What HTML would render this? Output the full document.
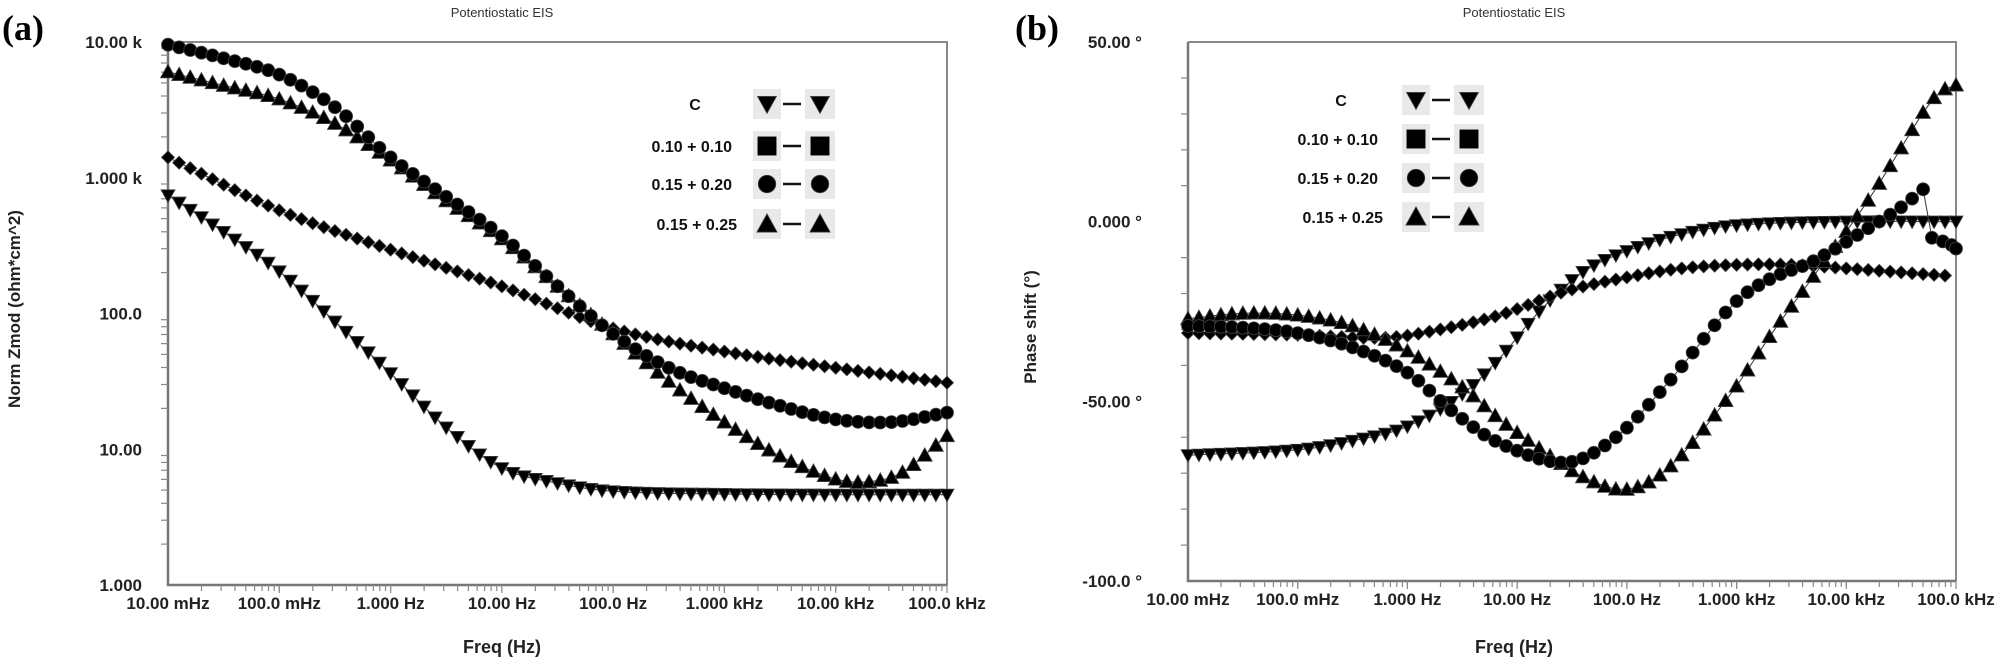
<!DOCTYPE html>
<html><head><meta charset="utf-8">
<style>
html,body{margin:0;padding:0;background:#fff;}
svg{display:block;}
text{font-family:"Liberation Sans",Arial,sans-serif;}
</style></head>
<body>
<svg id="s" width="2007" height="664" viewBox="0 0 2007 664" xmlns="http://www.w3.org/2000/svg">
<rect width="2007" height="664" fill="#fff"/>
<text x="2" y="40" font-weight="bold" font-size="36" fill="#000" style="font-family:'Liberation Serif',serif">(a)</text>
<text x="1015" y="40" font-weight="bold" font-size="36" fill="#000" style="font-family:'Liberation Serif',serif">(b)</text>
<text x="502" y="17" font-size="13" text-anchor="middle" fill="#333">Potentiostatic EIS</text>
<text x="1514" y="17" font-size="13" text-anchor="middle" fill="#333">Potentiostatic EIS</text>
<text x="502" y="653" font-size="18" font-weight="bold" text-anchor="middle" fill="#222">Freq (Hz)</text>
<text x="1514" y="653" font-size="18" font-weight="bold" text-anchor="middle" fill="#222">Freq (Hz)</text>
<text transform="translate(20,309) rotate(-90)" font-size="17" font-weight="bold" text-anchor="middle" fill="#222">Norm Zmod (ohm*cm^2)</text>
<text transform="translate(1036,327) rotate(-90)" font-size="17" font-weight="bold" text-anchor="middle" fill="#222">Phase shift (°)</text>
<g id="g"></g>
</svg>
<script>
(function(){
var g=document.getElementById('g'),out='';
function spline(pts,x){
  var n=pts.length;
  if(x<=pts[0][0])return pts[0][1];
  if(x>=pts[n-1][0])return pts[n-1][1];
  var i=0;while(i<n-2&&x>pts[i+1][0])i++;
  var p0=pts[Math.max(i-1,0)],p1=pts[i],p2=pts[i+1],p3=pts[Math.min(i+2,n-1)];
  var t=(x-p1[0])/(p2[0]-p1[0]);
  var h=p2[0]-p1[0];
  var m1=(p2[1]-p0[1])/(p2[0]-p0[0]||1)*h, m2=(p3[1]-p1[1])/(p3[0]-p1[0]||1)*h;
  var t2=t*t,t3=t2*t;
  return (2*t3-3*t2+1)*p1[1]+(t3-2*t2+t)*m1+(-2*t3+3*t2)*p2[1]+(t3-t2)*m2;
}
function marker(type,x,y,s){
  s=s||1;
  if(type=='c')return '<circle cx="'+x.toFixed(1)+'" cy="'+y.toFixed(1)+'" r="'+(6.5*s)+'" fill="#000" stroke="#444" stroke-width="0.8"/>';
  if(type=='t'){var a=7.5*s;return '<polygon points="'+x+','+(y-a)+' '+(x-a)+','+(y+a*0.8)+' '+(x+a)+','+(y+a*0.8)+'" fill="#000" stroke="#444" stroke-width="0.8"/>';}
  if(type=='v'){var a=7*s;return '<polygon points="'+x+','+(y+a)+' '+(x-a)+','+(y-a*0.8)+' '+(x+a)+','+(y-a*0.8)+'" fill="#000" stroke="#444" stroke-width="0.8"/>';}
  if(type=='d'){var a=6.5*s;return '<polygon points="'+x+','+(y-a)+' '+(x+a)+','+y+' '+x+','+(y+a)+' '+(x-a)+','+y+'" fill="#000" stroke="#444" stroke-width="0.8"/>';}
  if(type=='s'){var a=7*s;return '<rect x="'+(x-a)+'" y="'+(y-a)+'" width="'+(2*a)+'" height="'+(2*a)+'" fill="#000"/>';}
}
function series(type,pts,X,Y,extra){
  var P=[];
  for(var k=0;k<=70;k++){var d=k/10;P.push([X(d),Y(spline(pts,d))]);}
  if(extra){P=P.filter(function(p,i){return i/10<=extra.cut;});extra.pts.forEach(function(e){P.push([X(e[0]),Y(e[1])]);});}
  var s='<polyline fill="none" stroke="#333" stroke-width="1" points="'+P.map(function(p){return p[0].toFixed(1)+','+p[1].toFixed(1)}).join(' ')+'"/>';
  P.forEach(function(p){s+=marker(type,p[0],p[1]);});
  return s;
}
function axes(L,R,T,B){
  var s='<polyline fill="none" stroke="#888" stroke-width="2" points="'+L+','+T+' '+R+','+T+' '+R+','+B+'"/>';
  s+='<polyline fill="none" stroke="#777" stroke-width="2.5" points="'+L+','+T+' '+L+','+B+' '+R+','+B+'"/>';
  return s;
}
function xticks(L,dec,B){
  var s='';
  for(var d=0;d<7;d++)for(var m=1;m<=10;m++){
    if(d==0&&m==1)continue;
    var x=L+(d+Math.log10(m))*dec;
    var len=(m==10)?8:6;
    s+='<line x1="'+x.toFixed(1)+'" y1="'+B+'" x2="'+x.toFixed(1)+'" y2="'+(B+len)+'" stroke="#888" stroke-width="1.2"/>';
  }
  var labs=['10.00 mHz','100.0 mHz','1.000 Hz','10.00 Hz','100.0 Hz','1.000 kHz','10.00 kHz','100.0 kHz'];
  labs.forEach(function(t,i){s+='<text x="'+(L+i*dec).toFixed(1)+'" y="'+(B+24)+'" font-size="17" font-weight="bold" text-anchor="middle" fill="#222">'+t+'</text>';});
  return s;
}
var L1=168,R1=947,T1=42,B1=585,dec1=(R1-L1)/7,ydec=(B1-T1)/4;
var X1=function(d){return L1+d*dec1;}, Y1=function(v){return T1+(4-v)*ydec;};
out+=axes(L1,R1,T1,B1)+xticks(L1,dec1,B1);
for(var k=0;k<4;k++)for(var m=2;m<=9;m++){var y=B1-(k+Math.log10(m))*ydec;out+='<line x1="'+(L1-7)+'" y1="'+y.toFixed(1)+'" x2="'+L1+'" y2="'+y.toFixed(1)+'" stroke="#888" stroke-width="1.2"/>';}
['10.00 k','1.000 k','100.0','10.00','1.000'].forEach(function(t,i){out+='<text x="142" y="'+(T1+i*ydec+6)+'" font-size="17" font-weight="bold" text-anchor="end" fill="#222">'+t+'</text>';});
out+=series('v',[[0,2.87],[0.5,2.6],[1,2.31],[1.5,1.94],[2,1.56],[2.5,1.16],[3,0.86],[3.5,0.75],[4,0.69],[5,0.67],[6,0.665],[7,0.665]],X1,Y1);
out+=series('d',[[0,3.15],[1,2.76],[2,2.47],[3,2.2],[4,1.89],[5,1.72],[6,1.6],[7,1.49]],X1,Y1);
out+=series('t',[[0,3.78],[0.5,3.68],[1,3.58],[1.5,3.4],[2,3.13],[2.5,2.83],[3,2.55],[3.5,2.2],[4,1.85],[4.5,1.5],[5,1.2],[5.5,0.95],[6,0.78],[6.3,0.76],[6.6,0.83],[7,1.1]],X1,Y1);
out+=series('c',[[0,3.98],[0.5,3.88],[1,3.76],[1.5,3.52],[2,3.15],[2.5,2.86],[3,2.57],[3.5,2.2],[4,1.85],[4.5,1.6],[5,1.45],[5.5,1.32],[6,1.22],[6.5,1.2],[7,1.27]],X1,Y1);
var L2=1188,R2=1956,T2=42,B2=581,dec2=(R2-L2)/7,pd=(B2-T2)/150;
var X2=function(d){return L2+d*dec2;}, Y2=function(v){return T2+(50-v)*pd;};
out+=axes(L2,R2,T2,B2)+xticks(L2,dec2,B2);
for(var v=40;v>-100;v-=10){if(v%50==0)continue;var y=Y2(v);out+='<line x1="'+(L2-7)+'" y1="'+y.toFixed(1)+'" x2="'+L2+'" y2="'+y.toFixed(1)+'" stroke="#888" stroke-width="1.2"/>';}
['50.00 °','0.000 °','-50.00 °','-100.0 °'].forEach(function(t,i){out+='<text x="1142" y="'+(Y2(50-50*i)+6)+'" font-size="17" font-weight="bold" text-anchor="end" fill="#222">'+t+'</text>';});
out+=series('v',[[0,-65],[1,-63.5],[1.5,-61],[2,-57],[2.5,-48],[2.84,-38],[3.2,-25],[3.6,-14],[4.06,-7.5],[4.5,-3.5],[5,-1],[6,0],[7,0]],X2,Y2);
out+=series('d',[[0,-31],[1,-31.5],[1.8,-32.3],[2.3,-30],[2.84,-26],[3.45,-19.3],[4,-15.5],[4.5,-13],[5,-12],[5.5,-12],[6,-13],[6.9,-15],[7,-15]],X2,Y2,{cut:6.9,pts:[]});
out+=series('t',[[0,-27],[0.5,-25.5],[1,-26],[1.5,-29],[2,-36],[2.5,-46],[2.84,-55],[3.2,-63],[3.6,-71],[4.0,-74.5],[4.4,-68],[4.97,-47],[5.3,-32],[5.67,-16.5],[6.19,5.5],[6.49,20],[6.7,30.4],[6.85,36],[7,38]],X2,Y2);
out+=series('c',[[0,-29],[0.5,-29.5],[1,-31],[1.5,-35],[2,-42],[2.42,-53],[2.84,-61.6],[3.45,-67],[3.9,-60],[4.37,-45],[4.97,-23],[5.3,-16],[5.7,-11],[6.19,-2],[6.5,4],[6.7,9]],X2,Y2,{cut:6.7,pts:[[6.78,-4.5],[6.88,-5.5],[6.96,-6.5],[7,-7.5]]});
function legend(lx,rows,bx){
  var labs=['C','0.10 + 0.10','0.15 + 0.20','0.15 + 0.25'],types=['v','s','c','t'],s='';
  rows.forEach(function(y,i){
    var tx=(i==0)?lx-37:(i==3?lx+5:lx);
    s+='<text x="'+tx+'" y="'+(y+6)+'" font-size="16" font-weight="bold" text-anchor="'+(i==0?'middle':'end')+'" fill="#111">'+labs[i]+'</text>';
    s+='<rect x="'+(bx)+'" y="'+(y-15)+'" width="28" height="30" fill="#e9e9e9"/>';
    s+='<rect x="'+(bx+52)+'" y="'+(y-15)+'" width="30" height="30" fill="#e9e9e9"/>';
    s+='<line x1="'+(bx+30)+'" y1="'+y+'" x2="'+(bx+48)+'" y2="'+y+'" stroke="#111" stroke-width="2.5"/>';
    s+=marker(types[i],bx+14,y,1.35)+marker(types[i],bx+67,y,1.35);
  });
  return s;
}
out+=legend(732,[104,146,184,224],753);
out+=legend(1378,[100,139,178,217],1402);
g.innerHTML=out;
})();
</script>
</body></html>
